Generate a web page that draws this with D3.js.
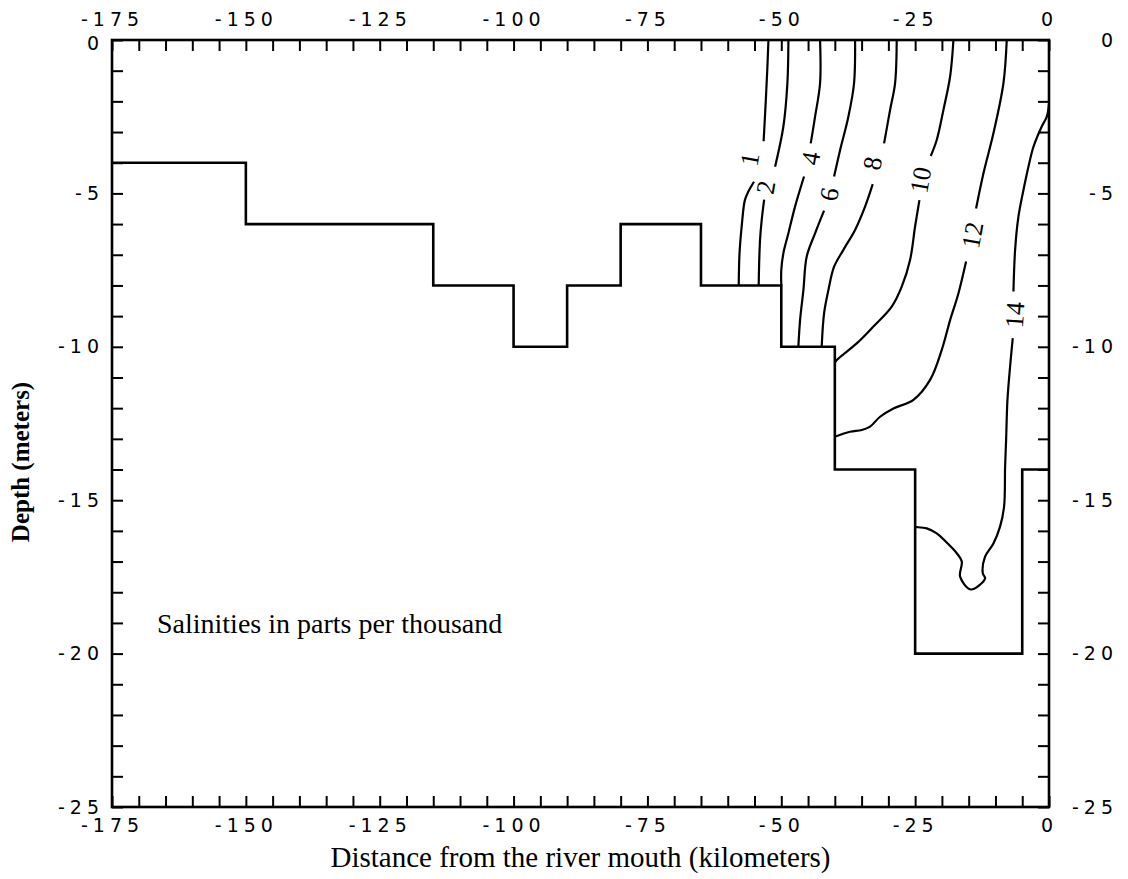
<!DOCTYPE html>
<html>
<head>
<meta charset="utf-8">
<script src="https://cdn.jsdelivr.net/npm/d3@7"></script>
<style>
  body { margin: 0; background: #fff; }
  .tick text { font-family: 'DejaVu Sans', sans-serif; font-size: 19px; letter-spacing: 5px; fill: #000; }
  .tick line { stroke: #000; stroke-width: 2; }
  .serif { font-family: 'Liberation Serif', 'Times New Roman', serif; fill: #000; }
</style>
</head>
<body>
<div id="chart"></div>
<script>
// axis labels
var x_ticks = [-175, -150, -125, -100, -75, -50, -25, 0];
var y_ticks = [0, -5, -10, -15, -20, -25];

// river bed, step profile: depth holds from bed_x[i] to bed_x[i+1]
var bed_x     = [-175, -150, -115, -100, -90, -80, -65, -50, -40, -25, -5, 0];
var bed_depth = [-4, -6, -8, -10, -8, -6, -8, -10, -14, -20, -14];

// salinity contours [km, depth], null = gap where the label sits
var sal_1 = [[-52.4, 0], [-52.6, -0.9], [-52.9, -2.0], [-53.3, -3.3], null,
  [-55.1, -4.62], [-56.15, -4.94], [-56.8, -5.22], [-57.4, -6.08], [-57.8, -6.95], [-57.95, -8]];
var sal_2 = [[-48.67, 0], [-48.86, -1.41], [-49.61, -2.82], [-51.16, -4.13], null,
  [-53.2, -5.2], [-53.66, -5.87], [-53.97, -6.52], [-54.15, -7.39], [-54.22, -8]];
var sal_4 = [[-42.76, 0], [-42.76, -1.41], [-43.69, -2.5], [-44.5, -3.37], null,
  [-45.75, -4.45], [-47.43, -5.43], [-48.67, -6.3], [-49.61, -6.95], [-50.0, -7.5], [-50.0, -8]];
var sal_6 = [[-36.22, 0], [-36.41, -1.41], [-37.47, -2.5], [-39.02, -3.59], [-40.14, -4.45], null,
  [-42.01, -5.56], [-43.69, -6.3], [-45.25, -7.06], [-45.87, -8.15], [-46.49, -9.13], [-46.81, -10]];
var sal_8 = [[-28.44, 0], [-28.75, -1.41], [-29.68, -2.28], [-30.8, -3.37], null,
  [-32.92, -4.7], [-34.35, -5.43], [-36.22, -6.19], [-38.4, -6.84], [-40.14, -7.39],
  [-41.2, -8.15], [-42.01, -8.91], [-42.45, -10]];
var sal_10 = [[-17.85, 0], [-18.47, -1.19], [-19.72, -2.28], [-20.97, -3.26], [-22.08, -3.78], null,
  [-24.2, -5.22], [-25.01, -6.08], [-25.95, -7.17], [-27.5, -8.04], [-29.37, -8.69],
  [-32.8, -9.34], [-35.91, -9.89], [-39.64, -10.43], [-40, -10.52]];
var sal_12 = [[-7.89, 0], [-8.51, -1.41], [-10.38, -3.04], [-12.25, -4.35], [-13.62, -5.49], null,
  [-15.49, -7.22], [-16.92, -8.26], [-18.47, -9.13], [-20.03, -10.1], [-22.21, -11.08],
  [-25.32, -11.73], [-29.06, -12.01], [-31.55, -12.28], [-33.42, -12.6], [-34.97, -12.71],
  [-37.15, -12.77], [-40, -12.93]];
var sal_14 = [[0, -2.1], [-0.41, -2.5], [-1.35, -2.82], [-2.9, -3.48], [-3.84, -4.13],
  [-4.77, -4.89], [-5.71, -5.76], [-6.33, -6.84], [-6.64, -8.2], null,
  [-6.77, -9.72], [-7.27, -10.65], [-7.76, -11.73], [-8.01, -13.04], [-8.2, -13.91],
  [-8.39, -15.21], [-9.14, -15.86], [-10.38, -16.41], [-11.94, -16.84], [-12.37, -17.38],
  [-11.94, -17.55], [-14.61, -17.91], [-16.6, -17.49], [-16.29, -17.0], [-17.22, -16.73],
  [-19.1, -16.38], [-20.97, -16.08], [-22.83, -15.92], [-24.57, -15.88], [-25, -15.88]];

var contours = [sal_1, sal_2, sal_4, sal_6, sal_8, sal_10, sal_12, sal_14];
var levels    = [1, 2, 4, 6, 8, 10, 12, 14];
var label_km  = [-55.83, -52.84, -44.44, -41.01, -32.92, -23.95, -14.24, -6.33];
var label_dep = [-3.89, -4.8, -3.86, -5.03, -4.02, -4.56, -6.36, -8.96];

var chart_width = 1128;
var chart_height = 879;
var plot_left = 112, plot_right = 1049, plot_top = 40, plot_bottom = 807;
var tick_len = 11;

var svg = d3.select('#chart')
  .append('svg')
  .attr('width', chart_width)
  .attr('height', chart_height);

var x_scale = d3.scaleLinear().domain([-175, 0]).range([plot_left, plot_right]);
var y_scale = d3.scaleLinear().domain([0, -25]).range([plot_top, plot_bottom]);

var minor_x = d3.range(-175, 1, 5);
var minor_y = d3.range(0, -26, -1);

function only(values) {
  return function(d) { return values.indexOf(d) >= 0 ? String(d) : ''; };
}

svg.append('g')
  .attr('transform', 'translate(0,' + plot_bottom + ')')
  .call(d3.axisBottom(x_scale).tickValues(minor_x).tickSize(-tick_len).tickPadding(12).tickFormat(only(x_ticks)));

svg.append('g')
  .attr('transform', 'translate(0,' + plot_top + ')')
  .call(d3.axisTop(x_scale).tickValues(minor_x).tickSize(-tick_len).tickPadding(14).tickFormat(only(x_ticks)));

svg.append('g')
  .attr('class', 'left-axis')
  .attr('transform', 'translate(' + plot_left + ',0)')
  .call(d3.axisLeft(y_scale).tickValues(minor_y).tickSize(-tick_len).tickPadding(8).tickFormat(only(y_ticks)));

// keep the top-left "0" clear of the "-175" above it
svg.selectAll('.left-axis text')
  .filter(function(d) { return d === 0; })
  .attr('dy', '0.5em');

svg.append('g')
  .attr('class', 'right-axis')
  .attr('transform', 'translate(' + plot_right + ',0)')
  .call(d3.axisRight(y_scale).tickValues(minor_y).tickSize(-tick_len).tickFormat(only(y_ticks)));

svg.selectAll('.right-axis text')
  .attr('text-anchor', 'end')
  .attr('x', 69);

svg.selectAll('.domain').remove();

svg.append('rect')
  .attr('x', plot_left)
  .attr('y', plot_top)
  .attr('width', plot_right - plot_left)
  .attr('height', plot_bottom - plot_top)
  .attr('fill', 'none')
  .attr('stroke', '#000')
  .attr('stroke-width', 2.6);

// river bed
var bed_points = bed_x.map(function(v, i) {
  return [v, bed_depth[Math.min(i, bed_depth.length - 1)]];
});

svg.append('path')
  .datum(bed_points)
  .attr('d', d3.line()
    .x(function(d) { return x_scale(d[0]); })
    .y(function(d) { return y_scale(d[1]); })
    .curve(d3.curveStepAfter))
  .attr('fill', 'none')
  .attr('stroke', '#000')
  .attr('stroke-width', 2.6);

// contours
var contour_line = d3.line()
  .defined(function(d) { return d !== null; })
  .x(function(d) { return x_scale(d[0]); })
  .y(function(d) { return y_scale(d[1]); })
  .curve(d3.curveCatmullRom.alpha(0.5));

svg.selectAll('.contour')
  .data(contours)
  .enter()
  .append('path')
  .attr('class', 'contour')
  .attr('d', contour_line)
  .attr('fill', 'none')
  .attr('stroke', '#000')
  .attr('stroke-width', 2.2);

svg.selectAll('.clabel')
  .data(levels)
  .enter()
  .append('text')
  .attr('class', 'clabel serif')
  .attr('transform', function(d, i) {
    var r = d === 14 ? -86 : -80;
    return 'translate(' + x_scale(label_km[i]) + ',' + y_scale(label_dep[i]) + ') rotate(' + r + ')';
  })
  .attr('text-anchor', 'middle')
  .attr('dominant-baseline', 'central')
  .attr('font-size', 26)
  .text(function(d) { return d; });

// titles
svg.append('text')
  .attr('class', 'serif')
  .attr('x', (plot_left + plot_right) / 2)
  .attr('y', 867)
  .attr('text-anchor', 'middle')
  .attr('font-size', 29)
  .text('Distance from the river mouth (kilometers)');

svg.append('text')
  .attr('class', 'serif')
  .attr('transform', 'translate(29,462) rotate(-90)')
  .attr('text-anchor', 'middle')
  .attr('font-size', 25)
  .attr('font-weight', 'bold')
  .text('Depth (meters)');

svg.append('text')
  .attr('class', 'serif')
  .attr('x', 157)
  .attr('y', 633)
  .attr('font-size', 28)
  .text('Salinities in parts per thousand');
</script>
</body>
</html>
